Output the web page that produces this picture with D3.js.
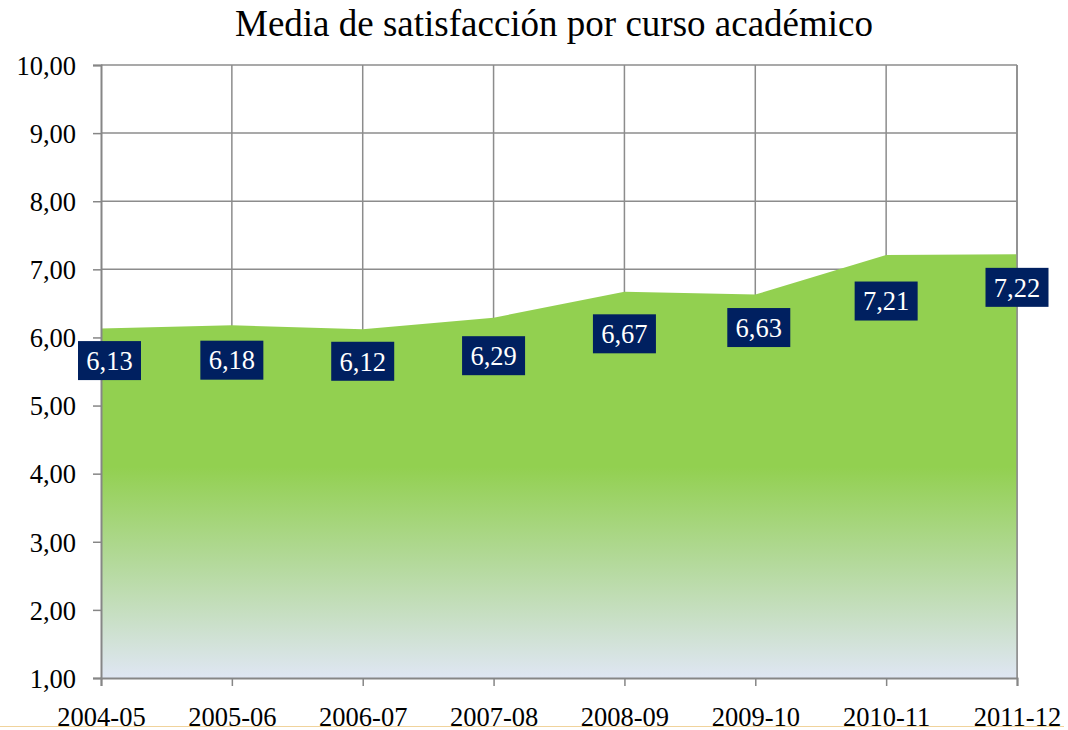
<!DOCTYPE html>
<html><head><meta charset="utf-8">
<script src="https://cdn.jsdelivr.net/npm/d3@7"></script>
<style>
html,body{margin:0;padding:0;background:#fff;}
svg{display:block;}
text{font-family:"Liberation Serif","Times New Roman",serif;}
</style></head>
<body>
<svg id="chart" width="1068" height="730"></svg>
<script>
const title = "Media de satisfacción por curso académico";
const categories = ["2004-05","2005-06","2006-07","2007-08","2008-09","2009-10","2010-11","2011-12"];
const values = [6.13, 6.18, 6.12, 6.29, 6.67, 6.63, 7.21, 7.22];
const yTicks = [1,2,3,4,5,6,7,8,9,10];
// label placement (pixel offsets of label box centre from the point)
const labelDx = [8.5, 0, 0, 0, 0, 3.5, 0, 0];
const labelDy = [32, 35, 32, 38, 42, 33, 46, 33];

(function(){
const svg = d3.select("#chart");
const mL = 101, mR = 1017, mT = 65, mB = 678;
const FF = "'Liberation Serif','Times New Roman',serif";
const x = d3.scalePoint().domain(categories).range([mL, mR]).padding(0);
const y = d3.scaleLinear().domain([1, 10]).range([mB, mT]);
const fmt = v => d3.format(".2f")(v).replace(".", ",");

// gradient
const defs = svg.append("defs");
const grad = defs.append("linearGradient").attr("id","g")
  .attr("gradientUnits","userSpaceOnUse").attr("x1",0).attr("x2",0)
  .attr("y1", y(4.1)).attr("y2", y(1));
grad.append("stop").attr("offset","0").attr("stop-color","#92d050");
grad.append("stop").attr("offset","0.45").attr("stop-color","#b3d99a");
grad.append("stop").attr("offset","1").attr("stop-color","#dfe6f3");

// grid
svg.append("g").selectAll("line").data(yTicks.filter(d=>d>1)).join("line")
  .attr("x1", mL).attr("x2", mR).attr("y1", d=>y(d)).attr("y2", d=>y(d))
  .attr("stroke","#8c8c8c").attr("stroke-width",1.5);
svg.append("g").selectAll("line").data(categories.slice(1)).join("line")
  .attr("x1", d=>x(d)).attr("x2", d=>x(d)).attr("y1", mT).attr("y2", mB)
  .attr("stroke","#8c8c8c").attr("stroke-width",1.5);

// area
const area = d3.area().x((d,i)=>x(categories[i])).y0(y(1)).y1(d=>y(d));
svg.append("path").datum(values).attr("d", area).attr("fill","url(#g)");

// right border line of plot
svg.append("line").attr("x1",mR).attr("x2",mR).attr("y1",mT).attr("y2",mB)
  .attr("stroke","#8c8c8c").attr("stroke-width",1.5);

// axes
const yAxis = d3.axisLeft(y).tickValues(yTicks).tickFormat(fmt).tickSize(8).tickPadding(17);
const gy = svg.append("g").attr("transform",`translate(${mL},0)`).call(yAxis);
gy.attr("font-family", FF);
gy.select(".domain").attr("stroke","#868686").attr("stroke-width",2);
gy.selectAll(".tick line").attr("stroke","#868686").attr("stroke-width",1.5);
gy.selectAll(".tick text").attr("font-size",26.5).attr("fill","#000")
  .attr("font-family",FF).attr("dy","0.35em");

const xAxis = d3.axisBottom(x).tickSize(8);
const gx = svg.append("g").attr("transform",`translate(0,${mB})`).call(xAxis);
gx.attr("font-family", FF);
gx.select(".domain").attr("stroke","#868686").attr("stroke-width",2);
gx.selectAll(".tick line").attr("stroke","#868686").attr("stroke-width",1.5);
gx.selectAll(".tick text").attr("font-size",26.5).attr("fill","#000")
  .attr("font-family",FF).attr("y",48).attr("dy",0);

// labels
const lg = svg.append("g").selectAll("g").data(values).join("g")
  .attr("transform",(d,i)=>`translate(${x(categories[i])+labelDx[i]},${y(d)+labelDy[i]})`);
lg.append("rect").attr("x",-31.5).attr("y",-19.5).attr("width",63).attr("height",39).attr("fill","#002060");
lg.append("text").attr("text-anchor","middle").attr("dy","0.35em").attr("font-size",26.5)
  .attr("font-family",FF).attr("fill","#fff").text(d=>fmt(d));

// title
svg.append("text").attr("x",554).attr("y",36).attr("text-anchor","middle")
  .attr("font-size",37).attr("font-family",FF).attr("fill","#000").text(title);

// bottom decorative line
svg.append("line").attr("x1",0).attr("x2",1064).attr("y1",726.5).attr("y2",726.5)
  .attr("stroke","#f0d39c").attr("stroke-width",1.2);
})();
</script>
</body></html>
